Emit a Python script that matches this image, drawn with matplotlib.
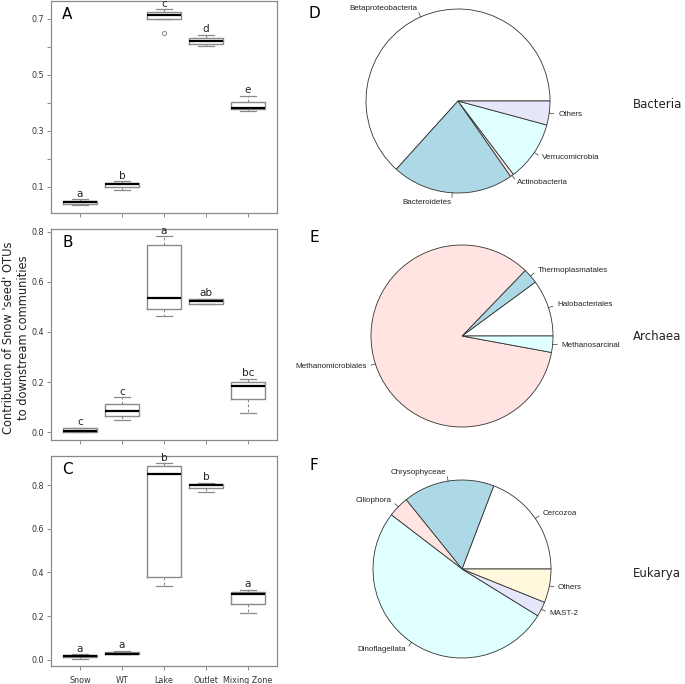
import numpy as np
import matplotlib
matplotlib.use("Agg")
import matplotlib.pyplot as plt

# ---- box plot data ----
sites = ["Snow", "WT", "Lake", "Outlet", "Mixing Zone"]

# each row: whislo, q1, med, q3, whishi
box_A = [[0.035, 0.039, 0.045, 0.050, 0.056],
         [0.089, 0.099, 0.110, 0.115, 0.120],
         [0.699, 0.700, 0.713, 0.725, 0.734],
         [0.603, 0.612, 0.621, 0.631, 0.644],
         [0.371, 0.378, 0.381, 0.402, 0.426]]
fliers_A = [[], [], [0.649], [], []]
letters_A = ["a", "b", "c", "d", "e"]

box_B = [[0.000, 0.001, 0.007, 0.017, 0.018],
         [0.050, 0.066, 0.086, 0.113, 0.140],
         [0.462, 0.493, 0.537, 0.748, 0.781],
         [0.512, 0.513, 0.524, 0.532, 0.533],
         [0.076, 0.132, 0.186, 0.202, 0.213]]
fliers_B = [[], [], [], [], []]
letters_B = ["c", "c", "a", "ab", "bc"]

box_C = [[0.003, 0.011, 0.015, 0.023, 0.024],
         [0.024, 0.025, 0.028, 0.034, 0.040],
         [0.340, 0.381, 0.852, 0.890, 0.901],
         [0.769, 0.785, 0.803, 0.806, 0.810],
         [0.216, 0.257, 0.303, 0.309, 0.319]]
fliers_C = [[], [], [], [], []]
letters_C = ["a", "a", "b", "b", "a"]

# ---- pie data (percent) ----
bact_names = ["Betaproteobacteria", "Bacteroidetes", "Actinobacteria", "Verrucomicrobia", "Others"]
bact_vals = [63.3, 21.4, 0.6, 10.5, 4.2]
arch_names = ["Halobacteriales", "Thermoplasmatales", "Methanomicrobiales", "Methanosarcinal"]
arch_vals = [10.1, 2.7, 84.4, 2.9]
euk_names = ["Cercozoa", "Chrysophyceae", "Ciliophora", "Dinoflagellata", "MAST-2", "Others"]
euk_vals = [19.2, 16.6, 3.8, 51.6, 2.7, 6.1]

# R default pie colours
pie_cols = ["white", "lightblue", "mistyrose", "lightcyan", "lavender", "cornsilk"]

W, H = 685, 684
fig = plt.figure(figsize=(W / 100, H / 100), dpi=100)

grey = "#8a8a8a"


def px_axes(left, top, right, bottom):
    return fig.add_axes([left / W, 1 - bottom / H, (right - left) / W, (bottom - top) / H])


def boxpanel(ax, rows, fliers, letters, ylim, yticks, ylabels, letter, show_x):
    stats = []
    for r, f in zip(rows, fliers):
        stats.append(dict(whislo=r[0], q1=r[1], med=r[2], q3=r[3], whishi=r[4], fliers=f))
    ax.bxp(stats, positions=range(1, 6), widths=0.8, capwidths=0.4,
           boxprops=dict(color=grey, linewidth=1.0),
           medianprops=dict(color="black", linewidth=1.6),
           whiskerprops=dict(color=grey, linewidth=0.8, linestyle=(0, (2.5, 2))),
           capprops=dict(color=grey, linewidth=0.9),
           flierprops=dict(marker="o", markersize=3, markerfacecolor="none",
                           markeredgecolor=grey, markeredgewidth=0.7))
    for i, (r, lab) in enumerate(zip(rows, letters)):
        ax.annotate(lab, (i + 1, r[4]), xytext=(0, 0.5), textcoords="offset points",
                    ha="center", va="bottom", fontsize=7.5, color="#222222",
                    annotation_clip=False)
    ax.set_xlim(0.31, 5.69)
    ax.set_ylim(*ylim)
    ax.set_yticks(yticks)
    ax.set_yticklabels(ylabels)
    ax.set_xticks(range(1, 6))
    ax.set_xticklabels(sites if show_x else [""] * 5)
    ax.tick_params(axis="both", length=3, width=0.7, color=grey, labelsize=5.8,
                   labelcolor="#333333", pad=2)
    ax.tick_params(axis="x", pad=4)
    for s in ax.spines.values():
        s.set_color(grey)
        s.set_linewidth(0.9)
    ax.text(0.05, 0.97, letter, transform=ax.transAxes, fontsize=11, ha="left", va="top")


axA = px_axes(51, 1, 277, 213)
boxpanel(axA, box_A, fliers_A, letters_A, (0.007, 0.764),
         [0.1, 0.2, 0.3, 0.4, 0.5, 0.6, 0.7], ["0.1", "", "0.3", "", "0.5", "", "0.7"], "A", False)

axB = px_axes(51, 229, 277, 440)
boxpanel(axB, box_B, fliers_B, letters_B, (-0.03, 0.81),
         [0.0, 0.2, 0.4, 0.6, 0.8], ["0.0", "0.2", "0.4", "0.6", "0.8"], "B", False)

axC = px_axes(51, 456, 277, 666)
boxpanel(axC, box_C, fliers_C, letters_C, (-0.029, 0.934),
         [0.0, 0.2, 0.4, 0.6, 0.8], ["0.0", "0.2", "0.4", "0.6", "0.8"], "C", True)

fig.text(16 / W, 1 - 338 / H, "Contribution of Snow 'seed' OTUs\nto downstream communities",
         rotation=90, ha="center", va="center", fontsize=8.3, linespacing=1.2, color="#222222")


def piepanel(cx, cy, r, names, vals, letter, letter_y, title, title_y):
    k = 1.2
    ax = px_axes(cx - k * r, cy - k * r, cx + k * r, cy + k * r)
    ax.pie(vals, colors=pie_cols[:len(vals)], startangle=0, counterclock=True, radius=1,
           wedgeprops=dict(edgecolor="#333333", linewidth=0.6))
    ax.set_xlim(-k, k)
    ax.set_ylim(-k, k)
    ax.set_aspect("equal")
    ax.axis("off")
    frac = np.array(vals) / np.sum(vals)
    edges = np.concatenate([[0], np.cumsum(frac)]) * 2 * np.pi
    for i, name in enumerate(names):
        a = (edges[i] + edges[i + 1]) / 2
        x, y = np.cos(a), np.sin(a)
        ax.plot([x, 1.05 * x], [y, 1.05 * y], color="#333333", linewidth=0.5, clip_on=False)
        ax.text(1.1 * x, 1.1 * y, name, ha="right" if x < 0 else "left", va="center",
                fontsize=5.8, family="Liberation Sans", color="#222222")
    fig.text(314 / W, 1 - letter_y / H, letter, fontsize=11, ha="center", va="center")
    fig.text(633 / W, 1 - title_y / H, title, fontsize=8.5, ha="left", va="center", color="#222222")


piepanel(458, 101, 92, bact_names, bact_vals, "D", 13, "Bacteria", 104)
piepanel(462, 336, 91, arch_names, arch_vals, "E", 238, "Archaea", 337)
piepanel(462, 569, 89, euk_names, euk_vals, "F", 466, "Eukarya", 574)

fig.savefig("out.png", dpi=100)
